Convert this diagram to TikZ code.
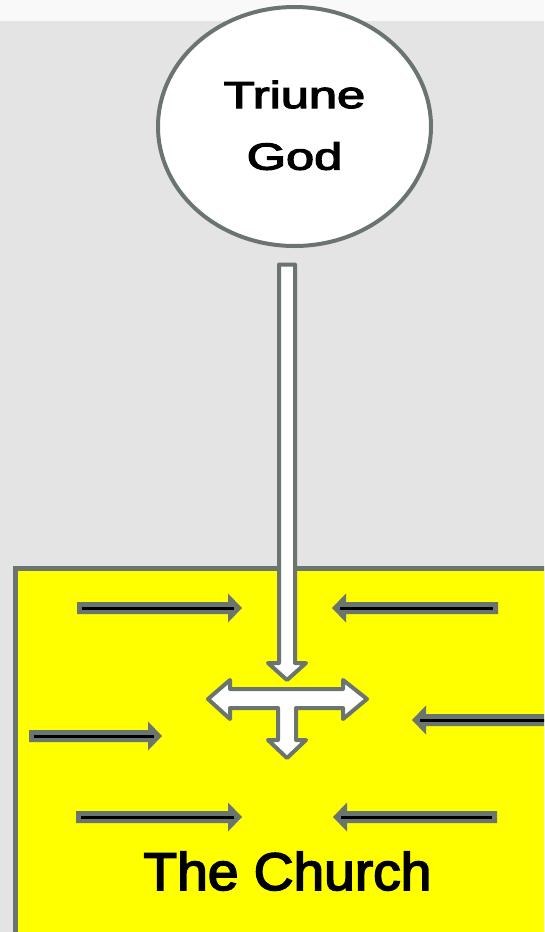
\documentclass[tikz,border=0pt]{standalone}
\usepackage{graphicx}
\usepackage{fontspec}
\setmainfont{Liberation Sans}
\newfontfamily\heavysans[FakeBold=3]{Liberation Sans}
\usetikzlibrary{shapes.geometric}
\definecolor{edgegray}{RGB}{107,117,111}
\definecolor{bggray}{RGB}{228,228,228}
\definecolor{topwhite}{RGB}{249,249,249}
\definecolor{churchyellow}{RGB}{255,255,0}
\tikzset{
  hollowarrow/.style={draw=edgegray, fill=white, line width=4pt, line join=round},
  sidebody/.style={fill=edgegray},
  sidecore/.style={draw=black, line width=3pt},
}
% tail x, tip x, y, sign (+1 points right, -1 points left)
\newcommand{\sidearrow}[4]{%
  \fill[sidebody] (#1,{#3-6}) -- ({#2-(#4)*14},{#3-6}) -- ({#2-(#4)*14},{#3-14.5})
    -- (#2,#3) -- ({#2-(#4)*14},{#3+14.5}) -- ({#2-(#4)*14},{#3+6}) -- (#1,{#3+6}) -- cycle;
  \draw[sidecore] ({#1+(#4)*5},#3) -- ({#2-(#4)*8},#3);}
\begin{document}
\begin{tikzpicture}[x=1pt,y=-1pt]
\clip (0,0) rectangle (544,932);
% background
\fill[bggray] (0,0) rectangle (544,932);
\fill[topwhite] (0,0) rectangle (544,21);
% church area
\draw[line width=5pt, draw=edgegray, fill=churchyellow] (15,568) rectangle (580,960);
% small converging arrows
\sidearrow{77}{242}{608}{1}
\sidearrow{498}{332}{608}{-1}
\sidearrow{29}{162}{736}{1}
\sidearrow{560}{412}{720}{-1}
\sidearrow{76}{242}{817}{1}
\sidearrow{497}{333}{817}{-1}
% vertical hollow arrow from God
\draw[hollowarrow] (279,264.5) -- (295,264.5) -- (295,663) -- (306,663) -- (287,680)
  -- (268,663) -- (279,663) -- cycle;
% tee-shaped hollow arrow
\draw[hollowarrow] (208,699) -- (230,680) -- (230,689) -- (343,689) -- (343,680)
  -- (367,699) -- (343,719) -- (343,708) -- (296,708) -- (296,740) -- (306,740)
  -- (287,758) -- (268,740) -- (278,740) -- (278,708) -- (230,708) -- (230,719) -- cycle;
% God
\node[ellipse, draw=edgegray, line width=4pt, fill=white, minimum width=273pt,
  minimum height=239pt, inner sep=0pt] (god) at (294.5,126.5)
  {\scalebox{1.34}[1]{\heavysans\fontsize{37.7}{61.6}\selectfont\begin{tabular}{@{}c@{}}Triune\\God\end{tabular}}};
% Church label
\node[anchor=base, inner sep=0pt, font=\heavysans\fontsize{53}{60}\selectfont] (church) at (287.5,890)
  {\scalebox{1.04}[1]{The Church}};
\end{tikzpicture}
\end{document}
